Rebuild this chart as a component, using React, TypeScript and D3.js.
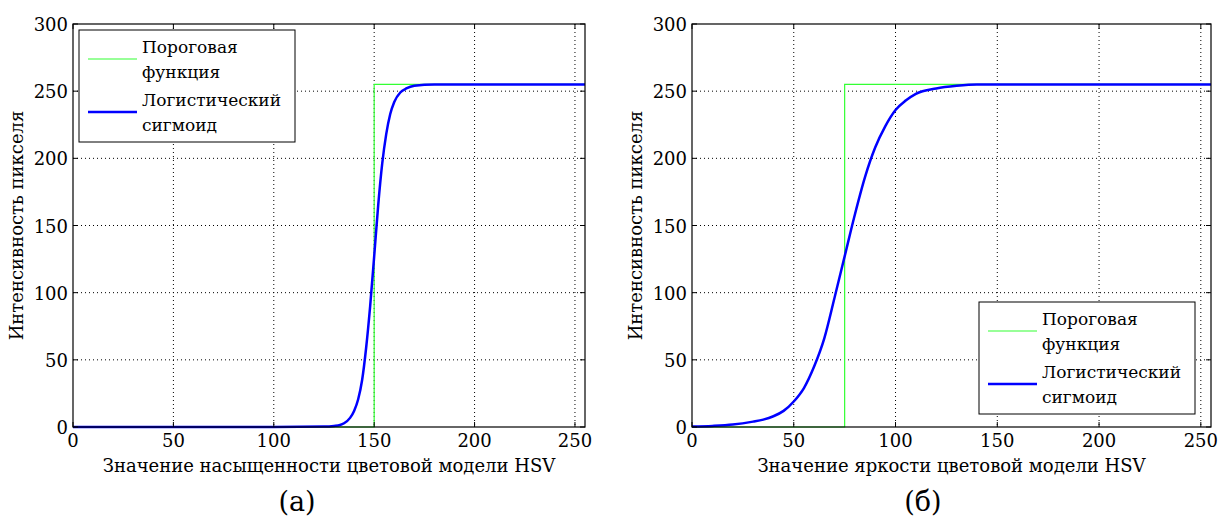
import React from 'react';
import * as d3 from 'd3';

// axis ticks shared by both panels
const xTicks = [0, 50, 100, 150, 200, 250];
const yTicks = [0, 50, 100, 150, 200, 250, 300];

const legendThreshold = ['Пороговая', 'функция'];
const legendSigmoid = ['Логистический', 'сигмоид'];

const yLabel = 'Интенсивность пикселя';
const xLabelA = 'Значение насыщенности цветовой модели HSV';
const xLabelB = 'Значение яркости цветовой модели HSV';

// (а) saturation: threshold at 150
const stepA: [number, number][] = [[0, 0], [150, 0], [150, 255], [255, 255]];
const sigmoidA: [number, number][] = [
  [0, 0], [100, 0], [125, 0.3], [130, 0.8], [133, 1.5], [135, 2.8], [138, 6.8], [140, 12],
  [142, 20.5], [144, 35], [146, 59], [148, 90], [150, 127], [152, 165], [154, 196],
  [156, 218], [158, 233], [160, 242], [163, 249], [166, 252], [170, 254], [180, 255], [255, 255],
];

// (б) value (brightness): threshold at 75
const stepB: [number, number][] = [[0, 0], [75, 0], [75, 255], [255, 255]];
const sigmoidB: [number, number][] = [
  [0, 0.3], [10, 0.8], [20, 1.8], [30, 4], [35, 5.5], [40, 8], [45, 12], [50, 19], [55, 29],
  [60, 45], [65, 66], [70, 96], [75, 127], [80, 158], [85, 186], [90, 208], [95, 224],
  [100, 236], [105, 243], [110, 248], [120, 252], [130, 254], [140, 255], [255, 255],
];

type PanelProps = {
  left: number;
  right: number;
  xLabel: string;
  caption: string;
  captionX: number;
  legendX: number;
  legendY: number;
  step: [number, number][];
  sigmoid: [number, number][];
};

const top = 24;
const bottom = 427;

function Panel(p: PanelProps) {
  const x = d3.scaleLinear().domain([0, 255]).range([p.left, p.right]);
  const y = d3.scaleLinear().domain([0, 300]).range([bottom, top]);
  const line = d3.line<[number, number]>().x(d => x(d[0])).y(d => y(d[1]));
  const smooth = d3.line<[number, number]>().x(d => x(d[0])).y(d => y(d[1])).curve(d3.curveMonotoneX);
  const tickLen = 5;

  const legendW = 216;
  const rows = [
    { label: legendThreshold, color: '#33ff33', width: 1.2 },
    { label: legendSigmoid, color: '#0000ff', width: 2.5 },
  ];

  return (
    <g>
      {/* grid */}
      {xTicks.filter(t => t > 0).map(t => (
        <line key={'gx' + t} x1={x(t)} x2={x(t)} y1={top} y2={bottom}
          stroke="#000" strokeWidth={1} strokeDasharray="1,3" />
      ))}
      {yTicks.filter(t => t > 0 && t < 300).map(t => (
        <line key={'gy' + t} x1={p.left} x2={p.right} y1={y(t)} y2={y(t)}
          stroke="#000" strokeWidth={1} strokeDasharray="1,3" />
      ))}

      {/* curves */}
      <path d={line(p.step) || ''} fill="none" stroke="#33ff33" strokeWidth={1.2} />
      <path d={smooth(p.sigmoid) || ''} fill="none" stroke="#0000ff" strokeWidth={2.5} />

      {/* ticks on all four sides */}
      {xTicks.map(t => (
        <g key={'tx' + t}>
          <line x1={x(t)} x2={x(t)} y1={bottom} y2={bottom - tickLen} stroke="#000" />
          <line x1={x(t)} x2={x(t)} y1={top} y2={top + tickLen} stroke="#000" />
          <text x={x(t)} y={bottom + 20} textAnchor="middle" fontSize={18}>{t}</text>
        </g>
      ))}
      {yTicks.map(t => (
        <g key={'ty' + t}>
          <line x1={p.left} x2={p.left + tickLen} y1={y(t)} y2={y(t)} stroke="#000" />
          <line x1={p.right} x2={p.right - tickLen} y1={y(t)} y2={y(t)} stroke="#000" />
          <text x={p.left - 5} y={y(t) + 7} textAnchor="end" fontSize={18}>{t}</text>
        </g>
      ))}

      <rect x={p.left} y={top} width={p.right - p.left} height={bottom - top}
        fill="none" stroke="#000" strokeWidth={1.2} />

      {/* legend */}
      <g transform={`translate(${p.legendX},${p.legendY})`}>
        <rect x={0} y={0} width={legendW} height={112} fill="#fff" stroke="#000" strokeWidth={1} />
        {rows.map((r, i) => (
          <g key={i}>
            <line x1={9} x2={58} y1={29 + i * 53} y2={29 + i * 53} stroke={r.color} strokeWidth={r.width} />
            <text x={63} y={23 + i * 53} fontSize={17}>{r.label[0]}</text>
            <text x={63} y={48 + i * 53} fontSize={17}>{r.label[1]}</text>
          </g>
        ))}
      </g>

      {/* axis labels */}
      <text transform={`translate(${p.left - 50},${(top + bottom) / 2}) rotate(-90)`}
        textAnchor="middle" fontSize={18}>{yLabel}</text>
      <text x={(p.left + p.right) / 2} y={bottom + 45} textAnchor="middle" fontSize={18}>
        {p.xLabel}
      </text>
      <text x={p.captionX} y={bottom + 84} textAnchor="middle" fontSize={27}>
        {p.caption}
      </text>
    </g>
  );
}

export default function App() {
  return (
    <svg width={1219} height={523}
      style={{ position: 'absolute', left: 0, top: 0, background: '#fff', fontFamily: "'DejaVu Serif', serif" }}>
      <rect width={1219} height={523} fill="#fff" />
      <Panel left={73} right={585} xLabel={xLabelA} caption="(а)" captionX={297}
        legendX={79} legendY={30} step={stepA} sigmoid={sigmoidA} />
      <Panel left={692} right={1211} xLabel={xLabelB} caption="(б)" captionX={923}
        legendX={979} legendY={302} step={stepB} sigmoid={sigmoidB} />
    </svg>
  );
}
